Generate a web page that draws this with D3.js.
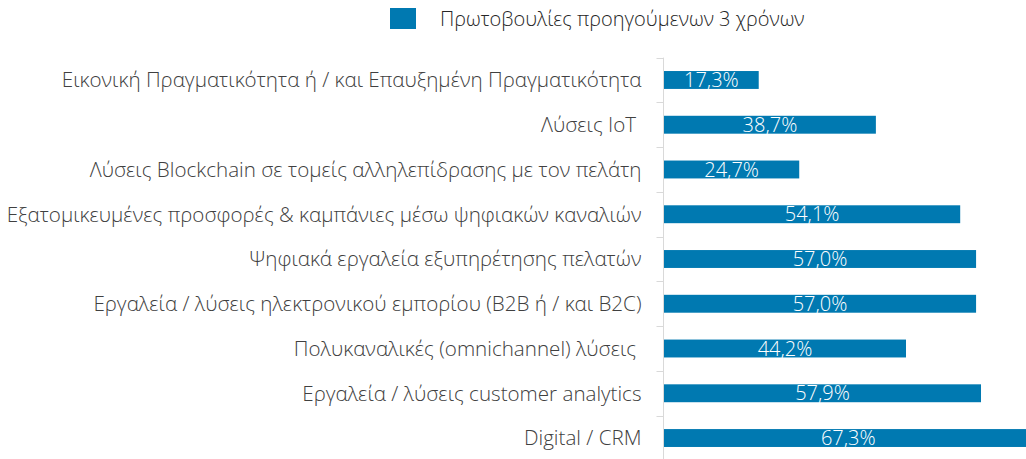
<!DOCTYPE html>
<html>
<head>
<meta charset="utf-8">
<script src="https://cdn.jsdelivr.net/npm/d3@7"></script>
<style>
  body { margin: 0; background: #fff; }
  svg { display: block; font-family: "Open Sans", sans-serif; font-weight: 300; }
</style>
</head>
<body>
<svg id="chart" width="1026" height="459"></svg>
<script>
// data
const categories = [
    "Εικονική Πραγματικότητα ή / και Επαυξημένη Πραγματικότητα",
    "Λύσεις IoT ",
    "Λύσεις Blockchain σε τομείς αλληλεπίδρασης με τον πελάτη",
    "Εξατομικευμένες προσφορές & καμπάνιες μέσω ψηφιακών καναλιών",
    "Ψηφιακά εργαλεία εξυπηρέτησης πελατών",
    "Εργαλεία / λύσεις ηλεκτρονικού εμπορίου (B2B ή / και B2C)",
    "Πολυκαναλικές (omnichannel) λύσεις ",
    "Εργαλεία / λύσεις customer analytics",
    "Digital / CRM"
];
const values = [17.3, 38.7, 24.7, 54.1, 57.0, 57.0, 44.2, 57.9, 67.3];
const seriesName = "Πρωτοβουλίες προηγούμενων 3 χρόνων";

const barColor = "#0079b1";

const svg = d3.select("svg#chart");

const x = d3.scaleLinear()
    .domain([0, 100])
    .range([664, 664 + 547.5]);

const y = d3.scaleBand()
    .domain(categories)
    .range([57.6, 460.4])
    .paddingInner(0.6)
    .paddingOuter(0.3);

// bars
svg.append("g")
    .selectAll("rect")
    .data(values)
    .join("rect")
    .attr("x", x(0))
    .attr("y", (d, i) => y(categories[i]))
    .attr("width", d => x(d) - x(0))
    .attr("height", y.bandwidth())
    .attr("fill", barColor);

// value labels
svg.append("g")
    .selectAll("text")
    .data(values)
    .join("text")
    .attr("x", d => (x(0) + x(d)) / 2)
    .attr("y", (d, i) => y(categories[i]) + y.bandwidth() / 2)
    .attr("dy", "0.36em")
    .attr("text-anchor", "middle")
    .attr("fill", "#fff")
    .attr("font-size", 20)
    .text(d => d3.format(".1f")(d).replace(".", ",") + "%");

// category axis
const step = y.step();
const yAxis = svg.append("g")
    .attr("transform", "translate(663.5,0)");

yAxis.append("line")
    .attr("y1", 57.6)
    .attr("y2", 460.4)
    .attr("stroke", "#d9d9d9");

yAxis.selectAll("line.tick")
    .data(d3.range(categories.length + 1))
    .join("line")
    .attr("class", "tick")
    .attr("x1", -7)
    .attr("x2", 0)
    .attr("y1", i => Math.round(57.6 + i * step) + 0.5)
    .attr("y2", i => Math.round(57.6 + i * step) + 0.5)
    .attr("stroke", "#d9d9d9");

yAxis.selectAll("text")
    .data(categories)
    .join("text")
    .attr("x", -22)
    .attr("y", d => y(d) + y.bandwidth() / 2)
    .attr("dy", "0.36em")
    .attr("text-anchor", "end")
    .attr("fill", "#404040")
    .attr("font-size", 20.6)
    .style("white-space", "pre")
    .text(d => d);

// legend
const legend = svg.append("g");
legend.append("rect")
    .attr("x", 390)
    .attr("y", 8)
    .attr("width", 26)
    .attr("height", 21)
    .attr("fill", barColor);
legend.append("text")
    .attr("x", 440)
    .attr("y", 18.5)
    .attr("dy", "0.36em")
    .attr("fill", "#262626")
    .attr("font-size", 20)
    .text(seriesName);
</script>
</body>
</html>
